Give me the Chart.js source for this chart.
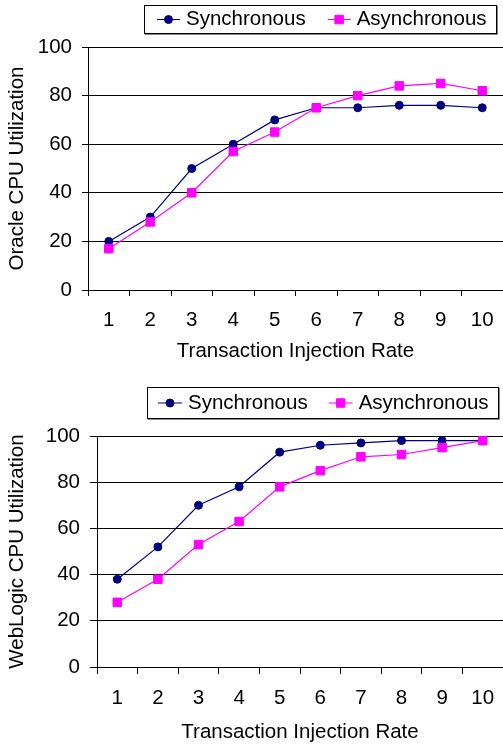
<!DOCTYPE html>
<html>
<head>
<meta charset="utf-8">
<script src="https://cdn.jsdelivr.net/npm/chart.js@4.4.1/dist/chart.umd.min.js"></script>
<style>
    html, body { margin: 0; padding: 0; background: #fff; overflow: hidden; }
    canvas { display: block; }
</style>
</head>
<body>
<canvas id="oracleChart" width="510" height="373"></canvas>
<canvas id="weblogicChart" width="510" height="374"></canvas>
<script>
// Transaction injection rate (x categories)
const rates = ['1', '2', '3', '4', '5', '6', '7', '8', '9', '10'];

// Oracle CPU utilization (%)
const oracleSync  = [20, 30, 50, 60, 70, 75, 75, 76, 76, 75];
const oracleAsync = [17, 28, 40, 57, 65, 75, 80, 84, 85, 82];

// WebLogic CPU utilization (%)
const weblogicSync  = [38, 52, 70, 78, 93, 96, 97, 98, 98, 98];
const weblogicAsync = [28, 38, 53, 63, 78, 85, 91, 92, 95, 98];

const FONT = 'Liberation Sans, Arial, Helvetica, sans-serif';
const FONT_SIZE = 20.5;
const NAVY = '#000080';
const MAGENTA = '#ff00ff';

/**
 * Boxed legend drawn in the old spreadsheet style:
 * short line segment with the marker in the middle, then the label.
 */
const framedLegend = {
    id: 'framedLegend',
    afterDraw(chart, args, opts) {
        const ctx = chart.ctx;
        ctx.save();
        // frame
        ctx.strokeStyle = '#000';
        ctx.lineWidth = 1;
        ctx.strokeRect(opts.left + 0.5, opts.top + 0.5, opts.width, opts.height);
        ctx.strokeStyle = '#888';
        ctx.beginPath();
        ctx.moveTo(opts.left + opts.width + 1.5, opts.top + 1);
        ctx.lineTo(opts.left + opts.width + 1.5, opts.top + opts.height + 1.5);
        ctx.lineTo(opts.left + 1, opts.top + opts.height + 1.5);
        ctx.stroke();

        const cy = opts.top + opts.height / 2 + 0.5;
        let x = opts.startX;
        ctx.font = FONT_SIZE + 'px ' + FONT;
        ctx.textBaseline = 'middle';
        ctx.textAlign = 'left';
        chart.data.datasets.forEach((ds) => {
            ctx.strokeStyle = ds.borderColor;
            ctx.fillStyle = ds.pointBackgroundColor;
            ctx.lineWidth = 1;
            ctx.beginPath();
            ctx.moveTo(x, cy);
            ctx.lineTo(x + opts.iconWidth, cy);
            ctx.stroke();
            Chart.helpers.drawPoint(ctx, {
                pointStyle: ds.pointStyle,
                radius: ds.pointRadius,
                borderWidth: 1,
                rotation: 0
            }, x + opts.iconWidth / 2, cy);
            const tx = x + opts.iconWidth + opts.textGap;
            ctx.fillStyle = '#000';
            ctx.fillText(ds.label, tx, cy);
            x = tx + ctx.measureText(ds.label).width + opts.itemGap;
        });
        ctx.restore();
    }
};

/**
 * Build one utilization chart.
 * @param {string} id - canvas id
 * @param {number[]} syncData
 * @param {number[]} asyncData
 * @param {string} yTitle
 * @param {object} box - layout numbers (pixels)
 */
function makeChart(id, syncData, asyncData, yTitle, box) {
    const tickFont = { family: FONT, size: FONT_SIZE };
    return new Chart(document.getElementById(id), {
        type: 'line',
        data: {
            labels: rates,
            datasets: [
                {
                    label: 'Synchronous',
                    data: syncData,
                    borderColor: NAVY,
                    backgroundColor: NAVY,
                    pointBackgroundColor: NAVY,
                    pointBorderColor: NAVY,
                    pointStyle: 'circle',
                    pointRadius: 4,
                    pointBorderWidth: 1,
                    borderWidth: 1.2,
                    tension: 0,
                    order: 1
                },
                {
                    label: 'Asynchronous',
                    data: asyncData,
                    borderColor: MAGENTA,
                    backgroundColor: MAGENTA,
                    pointBackgroundColor: MAGENTA,
                    pointBorderColor: MAGENTA,
                    pointStyle: 'rect',
                    pointRadius: 6,
                    pointBorderWidth: 1,
                    borderWidth: 1.2,
                    tension: 0,
                    order: 0
                }
            ]
        },
        options: {
            responsive: false,
            animation: false,
            layout: { padding: { top: box.top, left: 0, right: 2, bottom: box.bottom } },
            plugins: {
                legend: { display: false },
                tooltip: { enabled: false },
                framedLegend: box.legend
            },
            scales: {
                x: {
                    offset: true,
                    grid: {
                        offset: true,
                        drawOnChartArea: false,
                        drawTicks: true,
                        tickLength: box.tick,
                        color: '#000'
                    },
                    border: { color: '#000', width: 1 },
                    ticks: { font: tickFont, color: '#000', padding: 12, maxRotation: 0 },
                    title: {
                        display: true,
                        text: 'Transaction Injection Rate',
                        font: tickFont,
                        color: '#000',
                        padding: 0
                    },
                    afterFit(scale) { scale.height = box.xHeight; }
                },
                y: {
                    min: 0,
                    max: 100,
                    grid: { color: '#000', tickLength: box.tick, lineWidth: 1 },
                    border: { color: '#000', width: 1 },
                    ticks: { stepSize: 20, font: tickFont, color: '#000', padding: 10 },
                    title: {
                        display: true,
                        text: yTitle,
                        font: tickFont,
                        color: '#000',
                        padding: { top: 5, bottom: 0 }
                    },
                    afterFit(scale) { scale.width = box.yWidth; }
                }
            }
        },
        plugins: [framedLegend]
    });
}

makeChart('oracleChart', oracleSync, oracleAsync, 'Oracle CPU Utilization', {
    top: 47, bottom: 9, tick: 6, xHeight: 74, yWidth: 88,
    legend: { left: 144, top: 5, width: 352, height: 28, startX: 157, iconWidth: 23, textGap: 6, itemGap: 22 }
});

makeChart('weblogicChart', weblogicSync, weblogicAsync, 'WebLogic CPU Utilization', {
    top: 63, bottom: 2, tick: 7, xHeight: 78, yWidth: 97,
    legend: { left: 147, top: 14, width: 351, height: 31, startX: 158, iconWidth: 24, textGap: 6, itemGap: 21 }
});
</script>
</body>
</html>
